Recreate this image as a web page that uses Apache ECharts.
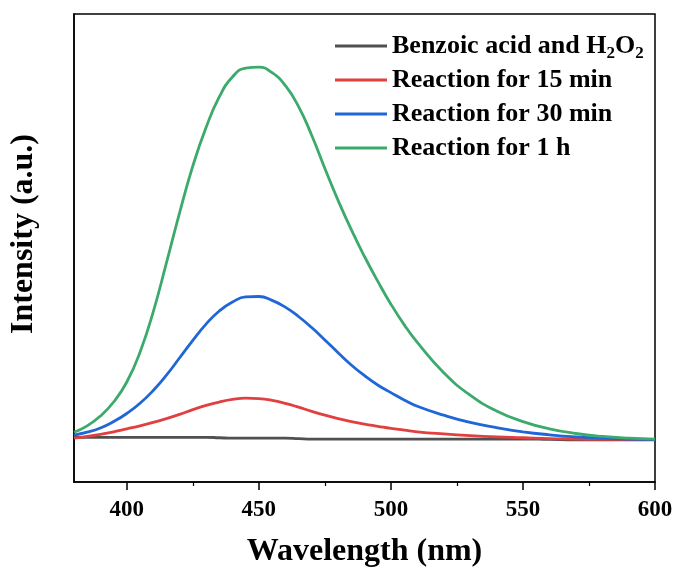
<!DOCTYPE html>
<html>
<head>
<meta charset="utf-8">
<script src="https://cdn.jsdelivr.net/npm/echarts@6/dist/echarts.min.js"></script>
<style>
  html, body { margin: 0; padding: 0; background: #fff; }
  #main { width: 676px; height: 567px; }
</style>
</head>
<body>
<div id="main"></div>
<script>
// wavelengths (nm)
var wavelengths = [380, 385, 390, 395, 400, 405, 410, 415, 420, 425, 430, 435, 440, 445, 450, 455, 460, 465, 470, 475,
                   480, 485, 490, 495, 500, 505, 510, 520, 530, 540, 550, 560, 570, 580, 590, 600];

// intensities (arbitrary units)
var benzoic = [5, 5, 5, 5, 5, 5, 5, 5, 5, 5, 5, 4, 3, 3, 3, 3, 3, 2, 1, 1,
               1, 1, 1, 1, 1, 1, 1, 1, 1, 1, 1, 0, -1, -1, -1, -1];
var min15 = [3, 7, 12, 18, 25, 32, 40, 49, 59, 70, 80, 88, 94, 97, 96, 92, 85, 76, 66, 57,
             49, 42, 36, 31, 26, 22, 18, 13, 9, 6, 4, 2, 1, 0, 0, 0];
var min30 = [10, 17, 27, 42, 61, 85, 115, 151, 192, 233, 271, 302, 323, 335, 336, 327, 311, 289, 263, 234,
             204, 175, 150, 128, 110, 93, 78, 57, 40, 28, 18, 11, 6, 3, 1, 0];
var hour1 = [17, 32, 55, 88, 135, 205, 300, 415, 533, 643, 733, 805, 852, 873, 875, 862, 832, 783, 715, 637,
             562, 493, 430, 372, 318, 270, 228, 157, 104, 67, 42, 25, 14, 7, 3, 1];

var seriesNames = ['Benzoic acid and H{sub|2}O{sub|2}', 'Reaction for 15 min', 'Reaction for 30 min', 'Reaction for 1 h'];
var seriesColors = ['#505050', '#e0403f', '#1f66d6', '#3caa6c'];
var xLabels = [400, 450, 500, 550, 600];
var xMinor = [425, 475, 525, 575];

function pairs(vals) {
  return wavelengths.map(function (w, i) { return [w, vals[i]]; });
}

var font = 'Liberation Serif, Times New Roman, serif';
var chart = echarts.init(document.getElementById('main'));

chart.setOption({
  animation: false,
  backgroundColor: '#fff',
  grid: {
    left: 74, right: 21, top: 14, bottom: 85,
    containLabel: false, outerBoundsMode: 'none',
    show: true, borderColor: '#000', borderWidth: 1.5
  },
  legend: {
    orient: 'vertical',
    left: 330, top: 25,
    icon: 'rect',
    itemWidth: 52, itemHeight: 3,
    itemGap: 2,
    data: seriesNames,
    textStyle: {
      fontFamily: font, fontWeight: 'bold', fontSize: 26, color: '#000', lineHeight: 32,
      rich: {
        // subscript: small box pinned to the bottom of the line
        sub: { fontFamily: font, fontWeight: 'bold', fontSize: 17, color: '#000', verticalAlign: 'bottom', lineHeight: 14 }
      }
    }
  },
  xAxis: [{
    type: 'value', min: 380, max: 600,
    name: 'Wavelength (nm)', nameLocation: 'middle', nameGap: 54,
    nameTextStyle: { fontFamily: font, fontWeight: 'bold', fontSize: 32, color: '#000' },
    axisLine: { show: true, onZero: false, lineStyle: { color: '#000', width: 1.5 } },
    axisTick: { show: true, inside: false, length: 8, lineStyle: { color: '#000', width: 1.5 }, customValues: xLabels },
    axisLabel: { margin: 17, fontFamily: font, fontWeight: 'bold', fontSize: 23, color: '#000', customValues: xLabels },
    splitLine: { show: false }
  }, {
    // minor ticks
    type: 'value', min: 380, max: 600, position: 'bottom',
    axisLine: { show: false, onZero: false },
    axisTick: { show: true, inside: false, length: 4, lineStyle: { color: '#000', width: 1.2 }, customValues: xMinor },
    axisLabel: { show: false, customValues: xMinor },
    splitLine: { show: false }
  }],
  yAxis: {
    type: 'value', min: -100, max: 1000,
    name: 'Intensity (a.u.)', nameLocation: 'middle', nameGap: 34,
    nameTextStyle: { fontFamily: font, fontWeight: 'bold', fontSize: 32, color: '#000', padding: [0, 0, 0, 28] },
    axisLine: { show: true, lineStyle: { color: '#000', width: 1.5 } },
    axisTick: { show: false },
    axisLabel: { show: false },
    splitLine: { show: false }
  },
  series: [benzoic, min15, min30, hour1].map(function (vals, i) {
    return {
      name: seriesNames[i],
      type: 'line',
      smooth: true,
      showSymbol: false,
      symbol: 'none',
      color: seriesColors[i],
      lineStyle: { width: 2.8, color: seriesColors[i] },
      data: pairs(vals)
    };
  })
});
</script>
</body>
</html>
